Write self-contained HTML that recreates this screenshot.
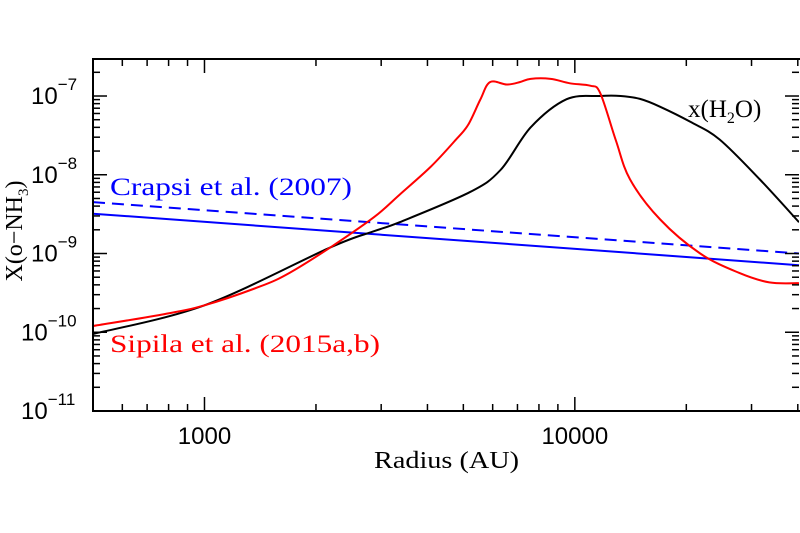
<!DOCTYPE html>
<html><head><meta charset="utf-8"><style>
html,body{margin:0;padding:0;background:#fff;}
svg{display:block;}
text{font-family:"Liberation Sans",sans-serif;}
.lbl{font-family:"Liberation Serif",serif;}
</style></head><body>
<svg id="chart" width="800" height="533" viewBox="0 0 800 533">
<g id="marks"></g>
<g id="axes"></g>
<text class="lbl" x="110" y="195" font-size="25" fill="#0000ff" textLength="242" lengthAdjust="spacingAndGlyphs">Crapsi et al. (2007)</text>
<text class="lbl" x="110" y="352" font-size="25" fill="#ff0000" textLength="270" lengthAdjust="spacingAndGlyphs">Sipila et al. (2015a,b)</text>
<text class="lbl" x="688" y="117" font-size="25" fill="#000">x(H<tspan font-size="16" dy="6">2</tspan><tspan dy="-6">O)</tspan></text>
<text class="lbl" x="374" y="468" font-size="24" fill="#000" textLength="145" lengthAdjust="spacingAndGlyphs">Radius (AU)</text>
<text class="lbl" transform="translate(22,231) rotate(-90)" font-size="24" text-anchor="middle" fill="#000">X(o−NH<tspan font-size="15" dy="6">3</tspan><tspan dy="-6">)</tspan></text>
</svg>
<script>
const xMin=500, xMax=40300, yMinLog=-11, yMaxLog=-6.53;
const xTickVals=[1000,10000];
const xTickLabels=["1000","10000"];
const yTickExps=[-11,-10,-9,-8,-7];
const crapsiR=[500,40300];
const crapsiSolid=[3.2e-9,7.1e-10];
const crapsiDashed=[4.5e-9,1.0e-9];
const h2oR=[500,1000,2190,2850,3365,5200,6300,7600,9500,11700,13300,15000,17000,20500,24600,31600,40300];
const h2oX=[9.5e-11,2.2e-10,1.2e-9,1.9e-9,2.5e-9,6e-9,1.15e-8,4e-8,9.1e-8,1.0e-7,1.0e-7,9.2e-8,7.3e-8,4.7e-8,2.8e-8,8.7e-9,2.5e-9];
const sipR=[500,780,1000,1410,1700,2190,2870,3365,4080,4760,5150,5550,5900,6550,7100,7600,8600,9700,11000,11700,12900,14100,17000,21800,27700,33500,40300];
const sipX=[1.2e-10,1.7e-10,2.2e-10,3.8e-10,5.7e-10,1.2e-9,2.9e-9,5.6e-9,1.26e-8,2.75e-8,4.3e-8,8.9e-8,1.5e-7,1.4e-7,1.5e-7,1.65e-7,1.65e-7,1.45e-7,1.35e-7,1.1e-7,2.75e-8,8.7e-9,2.7e-9,1.0e-9,5.7e-10,4.3e-10,4.2e-10];

const L=93,R=799,T=59,B=411;
const NS="http://www.w3.org/2000/svg";
function xs(v){return L+(Math.log10(v)-Math.log10(xMin))/(Math.log10(xMax)-Math.log10(xMin))*(R-L);}
function ys(v){return B-(Math.log10(v)-yMinLog)/(yMaxLog-yMinLog)*(B-T);}
function el(tag,attrs,parent){const e=document.createElementNS(NS,tag);for(const k in attrs)e.setAttribute(k,attrs[k]);parent.appendChild(e);return e;}
const marks=document.getElementById('marks'), axes=document.getElementById('axes');
function path(rs,vs){let d='';for(let i=0;i<rs.length;i++)d+=(i?'L':'M')+xs(rs[i]).toFixed(1)+','+ys(vs[i]).toFixed(1);return d;}
function smooth(rs,vs){const p=rs.map((r,i)=>[xs(r),ys(vs[i])]);let d='M'+p[0][0]+','+p[0][1];
for(let i=0;i<p.length-1;i++){const p0=p[i-1]||p[i],p1=p[i],p2=p[i+1],p3=p[i+2]||p2;
d+='C'+(p1[0]+(p2[0]-p0[0])/6).toFixed(1)+','+(p1[1]+(p2[1]-p0[1])/6).toFixed(1)+' '+(p2[0]-(p3[0]-p1[0])/6).toFixed(1)+','+(p2[1]-(p3[1]-p1[1])/6).toFixed(1)+' '+p2[0].toFixed(1)+','+p2[1].toFixed(1);}return d;}
const clip=el('clipPath',{id:'pc'},marks);el('rect',{x:L,y:T,width:R-L,height:B-T},clip);
const g=el('g',{'clip-path':'url(#pc)'},marks);
let e;
e=el('path',{d:path(crapsiR,crapsiDashed),stroke:'#0000ff','stroke-width':2,fill:'none','stroke-dasharray':'12,7'},g);


e=el('path',{d:path(crapsiR,crapsiSolid),stroke:'#0000ff','stroke-width':2,fill:'none'},g);


e=el('path',{d:smooth(h2oR,h2oX),stroke:'#000','stroke-width':2,fill:'none'},g);


e=el('path',{d:smooth(sipR,sipX),stroke:'#ff0000','stroke-width':2,fill:'none'},g);


e=el('rect',{x:L,y:T,width:R-L+4,height:B-T,fill:'none',stroke:'#000','stroke-width':2},axes);


for(let dec=100;dec<=100000;dec*=10){for(let m=1;m<10;m++){const v=dec*m;if(v<xMin||v>xMax)continue;const x=xs(v),len=m===1?14:7;
el('line',{x1:x,y1:B,x2:x,y2:B-len,stroke:'#000','stroke-width':1.5},axes);el('line',{x1:x,y1:T,x2:x,y2:T+len,stroke:'#000','stroke-width':1.5},axes);}}
xTickVals.forEach((v,i)=>{const t=el('text',{x:xs(v),y:444,'font-size':24,'text-anchor':'middle',fill:'#000'},axes);t.textContent=xTickLabels[i];

});
for(let ex=-11;ex<=-7;ex++){for(let m=1;m<10;m++){const v=m*Math.pow(10,ex);if(Math.log10(v)>yMaxLog)continue;const y=ys(v),len=m===1?14:7;
el('line',{x1:L,y1:y,x2:L+len,y2:y,stroke:'#000','stroke-width':1.5},axes);el('line',{x1:R,y1:y,x2:R-len,y2:y,stroke:'#000','stroke-width':1.5},axes);}}
yTickExps.forEach(ex=>{const y=ys(Math.pow(10,ex));const t=el('text',{x:ex===-7||ex===-8||ex===-9?31:21,y:y+8,'font-size':24,fill:'#000'},axes);
t.innerHTML='10<tspan font-size="17" dy="-14">\u2212'+(-ex)+'</tspan>';

});
</script>
</body></html>
